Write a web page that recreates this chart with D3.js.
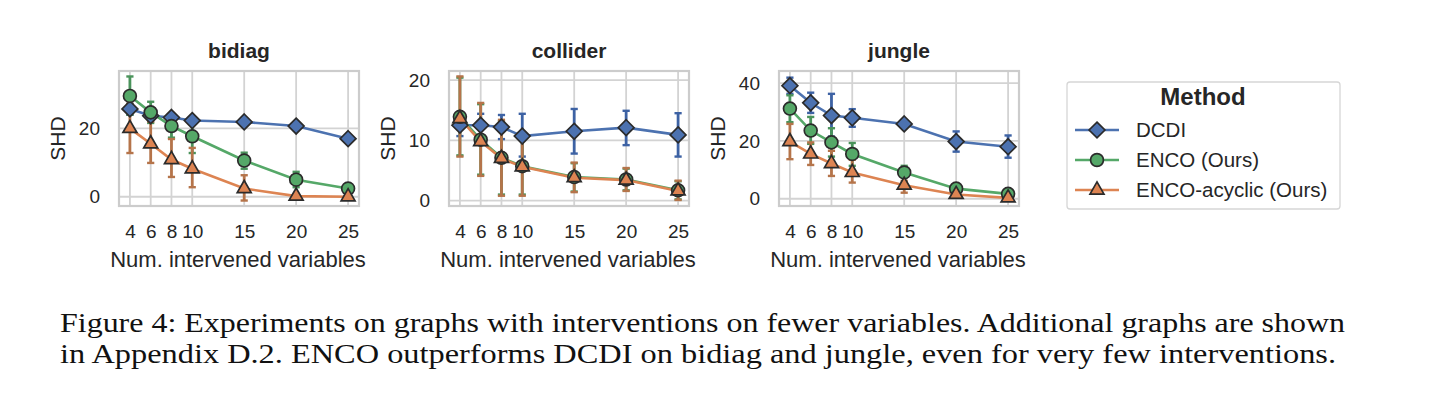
<!DOCTYPE html>
<html><head><meta charset="utf-8">
<script src="https://cdn.jsdelivr.net/npm/d3@7"></script>
<style>body{margin:0;background:#fff}svg{display:block}</style>
</head><body>
<svg id="c" width="1434" height="410"></svg>
<script>
const xs = [4, 6, 8, 10, 15, 20, 25];
const xTickLabels = ["4", "6", "8", "10", "15", "20", "25"];
const methods = ["DCDI", "ENCO (Ours)", "ENCO-acyclic (Ours)"];
const panelTitles = ["bidiag", "collider", "jungle"];

// bidiag
const dcdiB = [25.7, 23.7, 23.2, 22.3, 21.9, 20.7, 17.0];
const dcdiBLo = [24.0, 23.0, 22.7, 21.9, 21.4, 20.2, 16.5];
const dcdiBHi = [27.2, 24.5, 23.8, 22.7, 22.4, 21.3, 17.5];
const encoB = [29.5, 24.7, 20.7, 17.7, 10.6, 5.0, 2.4];
const encoBLo = [24.0, 21.6, 17.3, 12.8, 8.2, 2.8, 1.9];
const encoBHi = [35.2, 27.8, 23.2, 22.2, 12.9, 7.3, 2.9];
const acycB = [20.0, 15.5, 10.9, 8.2, 2.4, 0.2, 0.0];
const acycBLo = [12.8, 9.9, 5.8, 2.8, -1.1, -0.3, 0.0];
const acycBHi = [27.2, 22.0, 16.9, 14.3, 6.3, 0.7, 0.0];
// collider
const dcdiC = [12.5, 12.5, 12.2, 10.7, 11.5, 12.1, 10.9];
const dcdiCLo = [10.7, 10.6, 10.2, 7.3, 7.8, 9.2, 7.3];
const dcdiCHi = [14.3, 14.4, 14.2, 14.4, 15.2, 14.9, 14.5];
const encoC = [13.9, 10.1, 7.1, 5.7, 3.9, 3.5, 1.7];
const encoCLo = [7.5, 4.3, 1.0, 1.0, 1.5, 1.7, 0.2];
const encoCHi = [20.4, 16.0, 13.2, 10.4, 6.2, 5.3, 3.2];
const acycC = [13.6, 9.8, 7.0, 5.6, 3.8, 3.4, 1.6];
const acycCLo = [7.3, 4.1, 0.8, 0.8, 1.4, 1.6, 0.1];
const acycCHi = [20.6, 16.2, 13.4, 10.6, 6.3, 5.4, 3.3];
// jungle
const dcdiJ = [39.1, 33.2, 28.8, 28.0, 25.9, 19.8, 18.0];
const dcdiJLo = [36.3, 29.7, 21.5, 24.9, 25.0, 16.3, 14.2];
const dcdiJHi = [41.9, 36.7, 36.3, 31.0, 26.8, 23.3, 21.9];
const encoJ = [31.2, 23.6, 19.5, 15.5, 9.1, 3.5, 1.7];
const encoJLo = [26.5, 19.0, 14.6, 11.4, 7.4, 2.8, 1.2];
const encoJHi = [35.8, 28.3, 24.4, 19.3, 11.4, 4.2, 2.2];
const acycJ = [19.8, 15.5, 12.2, 9.1, 4.7, 1.5, 0.3];
const acycJLo = [13.7, 11.7, 7.9, 5.6, 2.1, 1.0, 0.0];
const acycJHi = [25.9, 19.5, 16.6, 13.5, 6.2, 2.0, 0.6];

const yTicks = [[0, 20], [0, 10, 20], [0, 20, 40]];
const yDomains = [[-2.7, 36.8], [-0.9, 21.5], [-2.5, 44.2]];

const colors = ["#4C72B0", "#55A868", "#DD8452"];
const errColors = ["#3D62A4", "#4A935B", "#B5744A"];
const symbols = [d3.symbolDiamond2, d3.symbolCircle, d3.symbolTriangle2];

const panels = [
  [[dcdiB, dcdiBLo, dcdiBHi], [encoB, encoBLo, encoBHi], [acycB, acycBLo, acycBHi]],
  [[dcdiC, dcdiCLo, dcdiCHi], [encoC, encoCLo, encoCHi], [acycC, acycCLo, acycCHi]],
  [[dcdiJ, dcdiJLo, dcdiJHi], [encoJ, encoJLo, encoJHi], [acycJ, acycJLo, acycJHi]]
];

const svg = d3.select("#c");
svg.append("rect").attr("width", 1434).attr("height", 410).attr("fill", "#fff");
const font = "'Liberation Sans', Arial, sans-serif";
const txt = "#262626";
const lefts = [119, 449, 779];
const W = 240, pTop = 71, pBottom = 206;

function markerPath(i, size) {
  return d3.symbol().type(symbols[i]).size(size)();
}
const markerSizes = [160, 130, 140];

panels.forEach((series, p) => {
  const g = svg.append("g");
  const x = d3.scaleLinear().domain([2.95, 26.05]).range([lefts[p], lefts[p] + W]);
  const y = d3.scaleLinear().domain(yDomains[p]).range([pBottom, pTop]);
  // grid
  g.selectAll(".vg").data(xs).enter().append("line")
    .attr("x1", d => x(d)).attr("x2", d => x(d)).attr("y1", pTop).attr("y2", pBottom)
    .attr("stroke", "#d3d3d3").attr("stroke-width", 1.8);
  g.selectAll(".hg").data(yTicks[p]).enter().append("line")
    .attr("x1", lefts[p]).attr("x2", lefts[p] + W).attr("y1", d => y(d)).attr("y2", d => y(d))
    .attr("stroke", "#d3d3d3").attr("stroke-width", 1.8);
  // frame
  g.append("rect").attr("x", lefts[p]).attr("y", pTop).attr("width", W).attr("height", pBottom - pTop)
    .attr("fill", "none").attr("stroke", "#cccccc").attr("stroke-width", 2.2);
  // axes
  const xa = d3.axisBottom(x).tickValues(xs).tickFormat((d, i) => xTickLabels[i]).tickSize(0).tickPadding(18.5);
  const xg = g.append("g").attr("transform", `translate(0,${pBottom})`).call(xa);
  xg.select(".domain").remove();
  xg.selectAll("text").attr("font-family", font).attr("font-size", 19).attr("fill", txt);
  const ya = d3.axisLeft(y).tickValues(yTicks[p]).tickSize(0).tickPadding(19);
  const yg = g.append("g").attr("transform", `translate(${lefts[p]},0)`).call(ya);
  yg.select(".domain").remove();
  yg.selectAll("text").attr("font-family", font).attr("font-size", 19).attr("fill", txt);
  // title and labels
  g.append("text").attr("x", lefts[p] + W / 2).attr("y", 57.5).attr("text-anchor", "middle")
    .attr("font-family", font).attr("font-size", 21).attr("font-weight", "bold").attr("fill", txt)
    .text(panelTitles[p]);
  g.append("text").attr("x", lefts[p] + W / 2 - 1).attr("y", 266.5).attr("text-anchor", "middle")
    .attr("font-family", font).attr("font-size", 22).attr("fill", txt)
    .text("Num. intervened variables");
  g.append("text").attr("transform", `translate(${lefts[p] - 54},${(pTop + pBottom) / 2}) rotate(-90)`)
    .attr("text-anchor", "middle").attr("font-family", font).attr("font-size", 21).attr("fill", txt)
    .text("SHD");
  const plot = g.append("g");
  // lines
  series.forEach((s, i) => {
    const line = d3.line().x((d, k) => x(xs[k])).y(d => y(d));
    plot.append("path").datum(s[0]).attr("d", line).attr("fill", "none")
      .attr("stroke", colors[i]).attr("stroke-width", 2.6);
  });
  // error bars
  series.forEach((s, i) => {
    const eg = plot.append("g");
    xs.forEach((xv, k) => {
      const lo = s[1][k], hi = s[2][k];
      if (hi - lo < 0.05) return;
      eg.append("line").attr("x1", x(xv)).attr("x2", x(xv)).attr("y1", y(lo)).attr("y2", y(hi))
        .attr("stroke", errColors[i]).attr("stroke-width", 2.8);
      [lo, hi].forEach(v => eg.append("line").attr("x1", x(xv) - 3.6).attr("x2", x(xv) + 3.6)
        .attr("y1", y(v)).attr("y2", y(v)).attr("stroke", errColors[i]).attr("stroke-width", 2.4));
    });
  });
  // markers
  series.forEach((s, i) => {
    plot.append("g").selectAll("path").data(s[0]).enter().append("path")
      .attr("transform", (d, k) => `translate(${x(xs[k])},${y(d)})`)
      .attr("d", markerPath(i, markerSizes[i]))
      .attr("fill", colors[i]).attr("stroke", "#2b2b2b").attr("stroke-width", 1.7);
  });
});

// legend
const lg = svg.append("g");
lg.append("rect").attr("x", 1067).attr("y", 82).attr("width", 273).attr("height", 127).attr("rx", 3)
  .attr("fill", "#fff").attr("stroke", "#d6d6d6").attr("stroke-width", 1.3);
lg.append("text").attr("x", 1203).attr("y", 105).attr("text-anchor", "middle")
  .attr("font-family", font).attr("font-size", 24).attr("font-weight", "bold").attr("fill", txt).text("Method");
methods.forEach((m, i) => {
  const yy = 130 + i * 30;
  lg.append("line").attr("x1", 1075).attr("x2", 1119).attr("y1", yy).attr("y2", yy)
    .attr("stroke", colors[i]).attr("stroke-width", 2.6);
  lg.append("path").attr("transform", `translate(1097,${yy})`).attr("d", markerPath(i, markerSizes[i]))
    .attr("fill", colors[i]).attr("stroke", "#2b2b2b").attr("stroke-width", 1.7);
  lg.append("text").attr("x", 1136).attr("y", yy + 7).attr("font-family", font).attr("font-size", 20.5)
    .attr("fill", txt).text(m);
});

// caption
const capFont = "'Liberation Serif', 'Times New Roman', serif";
const cap = ["Figure 4: Experiments on graphs with interventions on fewer variables. Additional graphs are shown",
             "in Appendix D.2. ENCO outperforms DCDI on bidiag and jungle, even for very few interventions."];
const capWidths = [1285, 1276];
cap.forEach((c, i) => svg.append("text").attr("x", 60).attr("y", 332 + i * 31.3)
  .attr("font-family", capFont).attr("font-size", 27).attr("fill", "#111")
  .attr("textLength", capWidths[i]).attr("lengthAdjust", "spacingAndGlyphs").text(c));
</script>
</body></html>
